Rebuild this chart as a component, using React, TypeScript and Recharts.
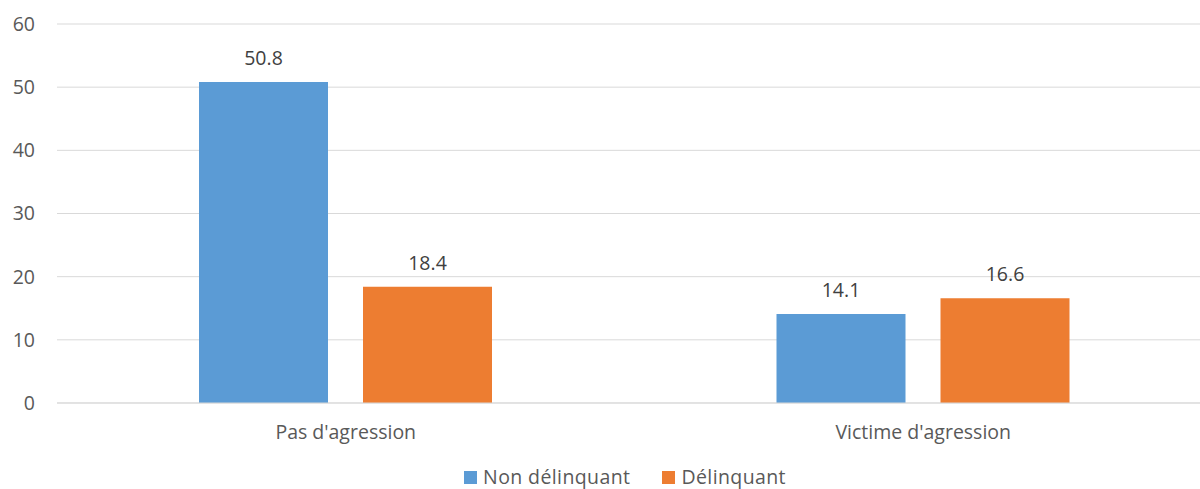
import React from "react";
import { BarChart, Bar, XAxis, YAxis, CartesianGrid, LabelList } from "recharts";

const categories = ["Pas d'agression", "Victime d'agression"];
const nonDelinquant = [50.8, 14.1];
const delinquant = [18.4, 16.6];
const seriesNames = ["Non délinquant", "Délinquant"];
const seriesColors = ["#5b9bd5", "#ed7d31"];
const yTicks = [0, 10, 20, 30, 40, 50, 60];

const data = categories.map((c, i) => ({
  name: c,
  nd: nonDelinquant[i],
  d: delinquant[i],
}));

const FONT = "'Open Sans', sans-serif";
const TEXT = "#595959";
const FS = 19.5;

export default function App() {
  return (
    <div
      style={{
        position: "absolute",
        left: 0,
        top: 0,
        width: 1200,
        height: 489,
        overflow: "hidden",
        background: "#fff",
        fontFamily: FONT,
      }}
    >
      <BarChart
        width={1212}
        height={489}
        data={data}
        margin={{ top: 24, right: 0, bottom: 0, left: 0 }}
        barGap={35}
        barSize={129}
      >
        <CartesianGrid vertical={false} stroke="#d9d9d9" strokeWidth={1} />
        <XAxis
          dataKey="name"
          height={86}
          axisLine={{ stroke: "#d9d9d9" }}
          tickLine={false}
          tickSize={0}
          tickMargin={22}
          tick={{ fill: TEXT, fontSize: FS, fontFamily: FONT }}
        />
        <YAxis
          width={57}
          domain={[0, 60]}
          ticks={yTicks}
          axisLine={false}
          tickLine={false}
          tickSize={0}
          tickMargin={22}
          tick={{ fill: TEXT, fontSize: FS, fontFamily: FONT }}
        />
        <Bar dataKey="nd" name={seriesNames[0]} fill={seriesColors[0]} isAnimationActive={false}>
          <LabelList dataKey="nd" position="top" offset={17} fill="#404040" fontSize={FS} fontFamily={FONT} />
        </Bar>
        <Bar dataKey="d" name={seriesNames[1]} fill={seriesColors[1]} isAnimationActive={false}>
          <LabelList dataKey="d" position="top" offset={17} fill="#404040" fontSize={FS} fontFamily={FONT} />
        </Bar>
      </BarChart>
      <div
        style={{
          position: "absolute",
          left: 0,
          width: 1250,
          top: 465,
          height: 24,
          lineHeight: "24px",
          display: "flex",
          justifyContent: "center",
          alignItems: "center",
          gap: 32,
          fontSize: FS,
          color: TEXT,
          fontFamily: FONT,
        }}
      >
        {seriesNames.map((n, i) => (
          <div key={n} style={{ display: "flex", alignItems: "center", gap: 6 }}>
            <span style={{ display: "inline-block", width: 13, height: 13, background: seriesColors[i] }} />
            <span style={{ letterSpacing: 0.4 }}>{n}</span>
          </div>
        ))}
      </div>
    </div>
  );
}
